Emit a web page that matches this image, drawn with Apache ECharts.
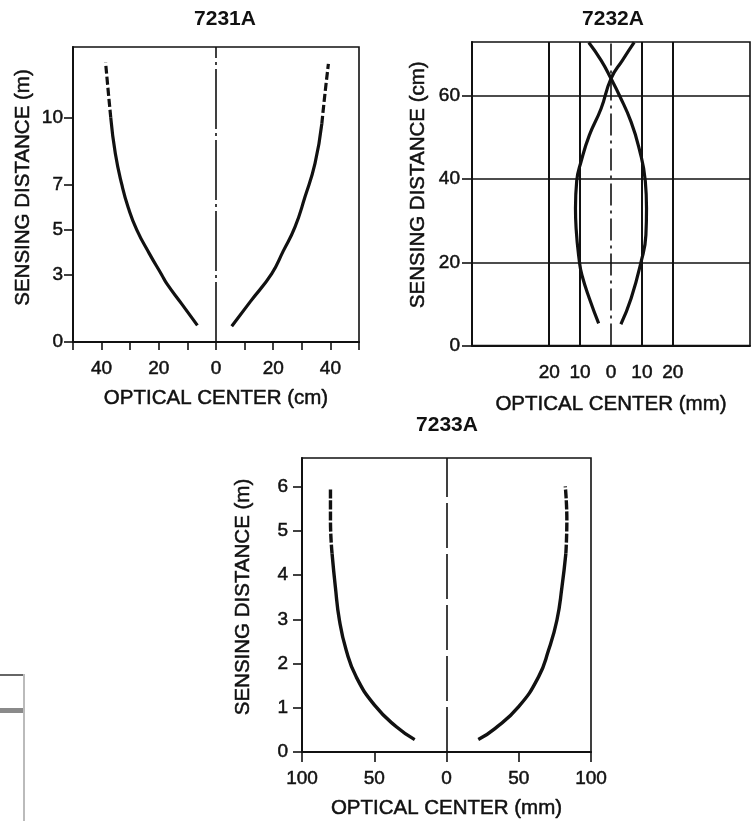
<!DOCTYPE html>
<html>
<head>
<meta charset="utf-8">
<script src="https://cdn.jsdelivr.net/npm/echarts@6/dist/echarts.min.js"></script>
<style>
html,body{margin:0;padding:0;background:#fff;}
#chart{width:756px;height:821px;}
</style>
</head>
<body>
<div id="chart"></div>
<script>
// ---------- 7231A ----------
const titleA = '7231A';
const a1YTicks = [0, 3, 5, 7, 10];
const a1LeftSolid = [[-6.5,0.74],[-12,1.7],[-17.2,2.6],[-19,3],[-23.3,3.94],[-27.7,5],[-30.7,6],[-32.9,7],[-35.2,8.4],[-36.8,10]];
const a1LeftDash = [[-36.8,10],[-37.7,11.2],[-38.6,12.45]];
const a1RightSolid = [[5.5,0.7],[12,1.8],[19.5,3.05],[23.5,4.05],[27.6,5.12],[31.1,6.46],[34.6,7.95],[37,9.73]];
const a1RightDash = [[37,9.73],[38.1,11.07],[39.3,12.4]];

// ---------- 7232A ----------
const titleB = '7232A';
const b2XLabels = [-20, -10, 0, 10, 20];
const b2XGrid = [-20, -10, 10, 20];
const b2YTicks = [0, 20, 40, 60];
const b2CurveA = [[-4,5.3],[-7,11.3],[-9.4,16.9],[-10.2,20],[-11.3,28.2],[-11.5,33],[-11.1,39.6],[-9.7,44.2],[-7,50.6],[-3.2,57],[0,64.2],[3.7,68.6],[7.5,72.9]];
const b2CurveB = [[3.2,5.1],[6.5,11.3],[9.7,20],[11.3,26.6],[11.5,33],[11.1,39.6],[9.1,47.4],[6.5,53.8],[2.7,60.2],[0,64.2],[-3.2,68.6],[-7.2,72.9]];

// ---------- 7233A ----------
const titleC = '7233A';
const c3YTicks = [0, 1, 2, 3, 4, 5, 6];
const c3LeftSolid = [[-22,0.28],[-34.7,0.57],[-49.8,1.06],[-62.5,1.7],[-69.4,2.3],[-74.1,2.98],[-76.9,3.73],[-79.2,4.49]];
const c3LeftDash = [[-79.2,4.49],[-80.3,5.24],[-80.3,5.96]];
const c3RightSolid = [[22,0.28],[33.5,0.53],[49.8,1.02],[63.7,1.7],[70.6,2.3],[76.4,2.98],[79.9,3.73],[82.6,4.49]];
const c3RightDash = [[82.6,4.49],[83.3,5.24],[82.2,6.01]];

const xNameCm = 'OPTICAL CENTER (cm)';
const xNameMm = 'OPTICAL CENTER (mm)';
const yNameM = 'SENSING DISTANCE (m)';
const yNameCm = 'SENSING DISTANCE (cm)';

const FONT = "'Liberation Sans', Arial, Helvetica, sans-serif";
const INK = '#111';

const chart = echarts.init(document.getElementById('chart'), null, {renderer: 'canvas'});

function absFmt(v) { return String(Math.abs(v)); }
function axisLineStyle() { return {show: true, onZero: false, lineStyle: {color: INK, width: 2}}; }
function labelStyle(extra) {
  return Object.assign({color: INK, fontFamily: FONT, fontSize: 19, textBorderColor: INK, textBorderWidth: 0.5}, extra || {});
}
function nameStyle(extra) {
  return Object.assign({color: INK, fontFamily: FONT, fontSize: 20.5, textBorderColor: INK, textBorderWidth: 0.5}, extra || {});
}
function curve(data, xi, dashed, width) {
  return {
    type: 'line', xAxisIndex: xi, yAxisIndex: xi, data: data,
    showSymbol: false, symbol: 'none', smooth: 0.5, silent: true,
    lineStyle: {color: INK, width: width || 3.2, type: dashed ? dashed : 'solid', cap: 'butt'}
  };
}
function centerLine(dash) {
  return {
    silent: true, symbol: ['none', 'none'], label: {show: false},
    lineStyle: {color: INK, width: 1.6, type: dash},
    data: [{xAxis: 0}]
  };
}

const s1 = curve(a1LeftSolid, 0);
s1.markLine = centerLine([60, 4, 3, 4]);
const s2 = curve(b2CurveA, 1, null, 3.2);
s2.markLine = centerLine([22, 5, 3, 5]);
const s3 = curve(c3LeftSolid, 2, null, 3.4);
s3.markLine = centerLine([45, 6]);

const titleStyle = {fontFamily: FONT, fontSize: 21, fontWeight: 'bold', color: INK};

const option = {
  animation: false,
  backgroundColor: '#fff',
  textStyle: {fontFamily: FONT},
  title: [
    {text: titleA, left: 225, top: 9, textAlign: 'center', padding: 0, textStyle: titleStyle},
    {text: titleB, left: 613, top: 9, textAlign: 'center', padding: 0, textStyle: titleStyle},
    {text: titleC, left: 447, top: 415, textAlign: 'center', padding: 0, textStyle: titleStyle}
  ],
  grid: [
    {left: 73, top: 47, width: 286, height: 295, show: true, borderColor: INK, borderWidth: 1.6, backgroundColor: 'transparent'},
    {left: 472, top: 42, width: 278, height: 303.5, show: true, borderColor: INK, borderWidth: 1.6, backgroundColor: 'transparent'},
    {left: 302, top: 458, width: 289, height: 294, show: true, borderColor: INK, borderWidth: 1.6, backgroundColor: 'transparent'}
  ],
  xAxis: [
    {gridIndex: 0, type: 'value', min: -50, max: 50, interval: 10,
     axisLine: axisLineStyle(),
     axisTick: {show: true, length: 8, lineStyle: {color: INK, width: 1.6}},
     axisLabel: labelStyle({margin: 17, formatter: function (v) { return (v % 20 === 0 && Math.abs(v) < 50) ? absFmt(v) : ''; }}),
     splitLine: {show: false},
     name: xNameCm, nameLocation: 'middle', nameGap: 46, nameTextStyle: nameStyle()},
    {gridIndex: 1, type: 'value', min: -45, max: 45,
     axisLine: axisLineStyle(),
     axisTick: {show: false, customValues: b2XGrid},
     axisLabel: labelStyle({margin: 18, customValues: b2XLabels, formatter: absFmt}),
     splitLine: {show: true, lineStyle: {color: INK, width: 2, type: 'solid'}},
     name: xNameMm, nameLocation: 'middle', nameGap: 48, nameTextStyle: nameStyle()},
    {gridIndex: 2, type: 'value', min: -100, max: 100, interval: 50,
     axisLine: axisLineStyle(),
     axisTick: {show: true, length: 10, lineStyle: {color: INK, width: 1.6}},
     axisLabel: labelStyle({margin: 17, formatter: absFmt}),
     splitLine: {show: false},
     name: xNameMm, nameLocation: 'middle', nameGap: 46, nameTextStyle: nameStyle()}
  ],
  yAxis: [
    {gridIndex: 0, type: 'value', min: 0, max: 13.15,
     axisLine: axisLineStyle(),
     axisTick: {show: true, length: 9, customValues: a1YTicks, lineStyle: {color: INK, width: 1.6}},
     axisLabel: labelStyle({margin: 10, customValues: a1YTicks}),
     splitLine: {show: false},
     name: yNameM, nameLocation: 'middle', nameGap: 39, nameTextStyle: nameStyle({padding: [0, 0, 0, 14]})},
    {gridIndex: 1, type: 'value', min: 0, max: 73,
     axisLine: axisLineStyle(),
     axisTick: {show: true, length: 10, customValues: b2YTicks, lineStyle: {color: INK, width: 1.6}},
     axisLabel: labelStyle({margin: 12, customValues: b2YTicks}),
     splitLine: {show: true, lineStyle: {color: INK, width: 1.6, type: 'solid'}},
     name: yNameCm, nameLocation: 'middle', nameGap: 43, nameTextStyle: nameStyle({padding: [0, 0, 0, 18]})},
    {gridIndex: 2, type: 'value', min: 0, max: 6.65,
     axisLine: axisLineStyle(),
     axisTick: {show: true, length: 9, customValues: c3YTicks, lineStyle: {color: INK, width: 1.6}},
     axisLabel: labelStyle({margin: 14, customValues: c3YTicks}),
     splitLine: {show: false},
     name: yNameM, nameLocation: 'middle', nameGap: 48, nameTextStyle: nameStyle({padding: [0, 0, 0, 16]})}
  ],
  series: [
    s1,
    curve(a1LeftDash, 0, [8, 3]),
    curve(a1RightSolid, 0),
    curve(a1RightDash, 0, [8, 3]),
    s2,
    curve(b2CurveB, 1, null, 3.2),
    s3,
    curve(c3LeftDash, 2, [9, 2], 3.4),
    curve(c3RightSolid, 2, null, 3.4),
    curve(c3RightDash, 2, [9, 2], 3.4)
  ],
  graphic: [
    {type: 'rect', silent: true, shape: {x: 0, y: 674, width: 24, height: 2}, style: {fill: '#666'}},
    {type: 'rect', silent: true, shape: {x: 0, y: 708, width: 24, height: 5}, style: {fill: '#8a8a8a'}},
    {type: 'rect', silent: true, shape: {x: 23, y: 674, width: 2, height: 147}, style: {fill: '#bbb'}}
  ]
};
chart.setOption(option);
</script>
</body>
</html>
